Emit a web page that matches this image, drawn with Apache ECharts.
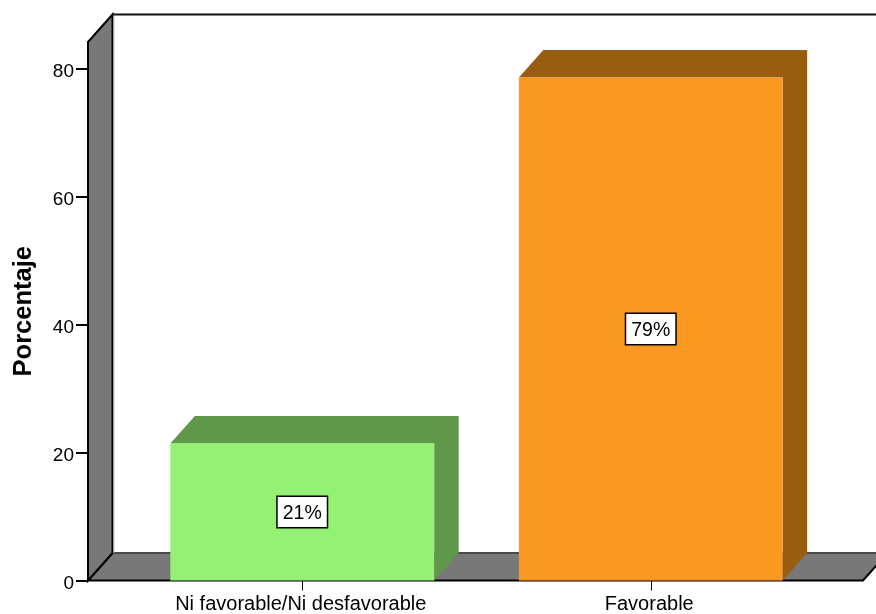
<!DOCTYPE html>
<html>
<head>
<meta charset="utf-8">
<style>html,body{margin:0;padding:0;background:#fff}#c{width:876px;height:614px}</style>
<script src="https://cdn.jsdelivr.net/npm/echarts@6/dist/echarts.min.js"></script>
</head>
<body>
<div id="c"></div>
<script>
const categories = ['Ni favorable/Ni desfavorable', 'Favorable'];
const values = [21.4, 78.6];
const barColors = ['#95f174', '#fb981f'];
const sideColors = ['#5f9848', '#995d12'];
const yTicks = [0, 20, 40, 60, 80];

const font = '"Liberation Sans", Arial, sans-serif';
const depthX = 24.5, depthY = 27.5;

const chart = echarts.init(document.getElementById('c'), null, {renderer: 'canvas'});

function renderFrame(params, api) {
  const cs = params.coordSys;
  const left = cs.x - 40, right = cs.x + cs.width + 38;
  const top = cs.y, bottom = cs.y + cs.height;
  const wallStyle = {fill: '#787878', stroke: '#000', lineWidth: 2, lineJoin: 'miter'};
  return {
    type: 'group',
    children: [
      {type: 'polygon', shape: {points: [[left + depthX, bottom - depthY], [right + depthX, bottom - depthY], [right, bottom], [left, bottom]]},
        style: wallStyle},
      {type: 'line', shape: {x1: left + depthX, y1: bottom - depthY, x2: right + depthX, y2: bottom - depthY},
        style: {stroke: '#4a4a4a', lineWidth: 2}},
      {type: 'polygon', shape: {points: [[left, top], [left + depthX, top - depthY], [left + depthX, bottom - depthY], [left, bottom]]},
        style: wallStyle},
      {type: 'line', shape: {x1: left + depthX + 1.5, y1: top - depthY + 1, x2: left + depthX + 1.5, y2: bottom - depthY},
        style: {stroke: '#c4c4c4', lineWidth: 1}},
      {type: 'line', shape: {x1: left + depthX, y1: top - depthY, x2: right + depthX, y2: top - depthY},
        style: {stroke: '#111', lineWidth: 2}}
    ]
  };
}

function renderBar(params, api) {
  const i = api.value(0), v = api.value(1);
  const base = api.coord([i, 0]), tip = api.coord([i, v]);
  const w = api.size([1, 0])[0] * 0.757;
  const x0 = base[0] - w / 2, x1 = base[0] + w / 2, y0 = base[1], y1 = tip[1];
  return {
    type: 'group',
    children: [
      {type: 'polygon', shape: {points: [[x0, y1], [x0 + depthX, y1 - depthY], [x1 + depthX, y1 - depthY], [x1 + depthX, y0 - depthY], [x1, y0], [x1, y1]]},
        style: {fill: sideColors[i]}},
      {type: 'rect', shape: {x: x0, y: y1, width: w, height: y0 - y1},
        style: {fill: barColors[i]}},
      {type: 'text', x: base[0], y: (y0 + y1) / 2 - 15,
        style: {text: Math.round(v) + '%', font: '19.5px ' + font, fill: '#000', align: 'center', verticalAlign: 'top', lineHeight: 20,
          backgroundColor: '#fff', borderColor: '#000', borderWidth: 1.5, padding: [7, 5, 3, 5]}}
    ]
  };
}

chart.setOption({
  animation: false,
  backgroundColor: '#fff',
  grid: {left: 128, right: 51, top: 42, bottom: 33.5, outerBoundsMode: 'none'},
  xAxis: {
    type: 'category',
    data: categories,
    axisLine: {show: false},
    axisTick: {show: true, alignWithLabel: true, length: 10, lineStyle: {color: '#000', width: 1}},
    axisLabel: {color: '#000', fontFamily: font, fontSize: 20, margin: 14, interval: 0, padding: [0, 3, 0, 0]},
    splitLine: {show: false}
  },
  yAxis: {
    type: 'value',
    min: 0,
    max: 84.14,
    interval: 20,
    offset: 40,
    name: 'Porcentaje',
    nameLocation: 'middle',
    nameGap: 51,
    nameTextStyle: {color: '#000', fontFamily: font, fontSize: 25.5, fontWeight: 'bold'},
    axisLine: {show: true, lineStyle: {color: '#000', width: 2}},
    axisTick: {show: true, length: 12, customValues: yTicks, lineStyle: {color: '#000', width: 2}},
    axisLabel: {color: '#000', fontFamily: font, fontSize: 19, margin: 14, customValues: yTicks,
      verticalAlign: 'top', lineHeight: 20, padding: [-7, 0, 0, 0]},
    splitLine: {show: false}
  },
  series: [
    {type: 'custom', clip: false, z: 1, silent: true, renderItem: renderFrame, data: [[0, 0]]},
    {type: 'custom', clip: false, z: 3, silent: true, renderItem: renderBar,
      data: values.map((v, i) => [i, v])}
  ]
});
</script>
</body>
</html>
